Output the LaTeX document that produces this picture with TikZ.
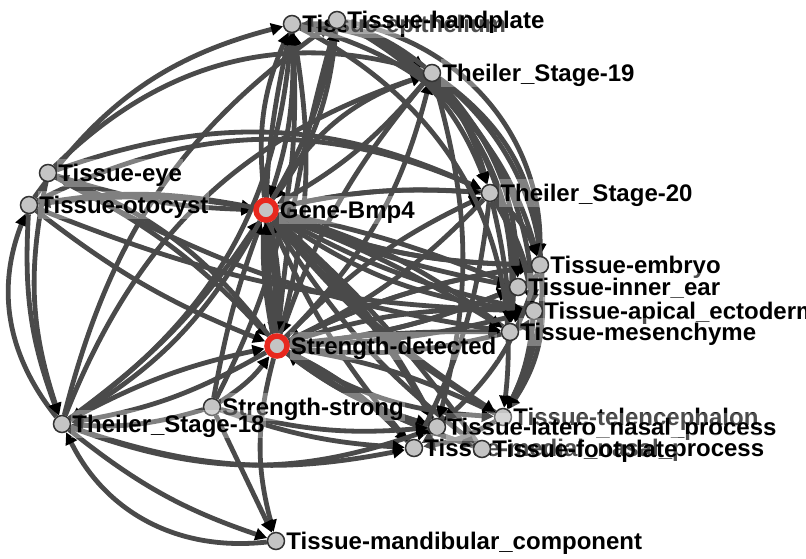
\documentclass[tikz,border=0pt]{standalone}
\usepackage{fontspec}
\setmainfont{Liberation Sans}
\usetikzlibrary{arrows.meta,backgrounds}
\definecolor{edgegray}{RGB}{74,74,74}
\definecolor{nodegray}{RGB}{196,196,196}
\definecolor{ringred}{RGB}{232,40,30}

\begin{document}
\begin{tikzpicture}[x=1pt,y=1pt,
  lbl/.style={font=\fontsize{24}{27}\selectfont\bfseries,fill=white,fill opacity=0.3,
    text opacity=1,inner sep=1pt,text height=21.5pt,text depth=4.5pt},
  every label/.style={lbl},
  gene/.style={circle,draw=black!80,line width=1.5pt,fill=nodegray,
    minimum size=17pt,inner sep=0pt,label distance=5.5pt},
  hub/.style={circle,draw=ringred,line width=5.5pt,fill=nodegray,
    minimum size=20pt,inner sep=0pt,label distance=2.5pt},
  link/.style={draw=edgegray,line width=4.8pt,
    -{Triangle[length=12pt,width=12pt,color=black]}}]
\useasboundingbox (0,0) rectangle (806,-558);

\node[gene,label=right:Tissue-epithelium] (epi) at (292,-24) {};
\node[gene,label=right:Tissue-handplate] (hand) at (337,-20) {};
\node[gene,label=right:Theiler\_Stage-19] (ts19) at (432,-73) {};
\node[gene,label=right:Tissue-eye] (eye) at (48,-173) {};
\node[gene,label=right:Tissue-otocyst] (oto) at (29,-205) {};
\node[hub,label=right:Gene-Bmp4] (bmp) at (266,-210) {};
\node[gene,label=right:Theiler\_Stage-20] (ts20) at (490,-193) {};
\node[gene,label=right:Tissue-embryo] (emb) at (540,-265) {};
\node[gene,label=right:Tissue-inner\_ear] (inn) at (518,-287) {};
\node[gene,label=right:Tissue-apical\_ectoderm] (api) at (534,-311) {};
\node[gene,label=right:Tissue-mesenchyme] (mes) at (510,-332) {};
\node[hub,label=right:Strength-detected] (det) at (277,-346) {};
\node[gene,label=right:Strength-strong] (str) at (212,-407) {};
\node[gene,label=right:Theiler\_Stage-18] (ts18) at (62,-424) {};
\node[gene,label=right:Tissue-telencephalon] (tel) at (503,-417) {};
\node[gene,label=right:Tissue-latero\_nasal\_process] (lat) at (437,-427) {};
\node[gene,label=right:Tissue-medial\_nasal\_process] (med) at (414,-448) {};
\node[gene,label=right:Tissue-footplate] (foot) at (482,-449) {};
\node[gene,label=right:Tissue-mandibular\_component] (mand) at (276,-541) {};

\begin{scope}[on background layer]
% into Gene-Bmp4
\foreach \s/\t/\b in {eye/bmp/-8, oto/bmp/8, ts18/bmp/-10, str/bmp/5, epi/bmp/10,
    hand/bmp/15, ts19/bmp/10, ts20/bmp/-8, emb/bmp/10, inn/bmp/-5, api/bmp/8,
    mes/bmp/-10, tel/bmp/10, lat/bmp/-8, med/bmp/8, foot/bmp/-6}
  \draw[link] (\s) to[bend left=\b] (\t);
% into Strength-detected
\foreach \s/\t/\b in {eye/det/10, oto/det/-8, ts18/det/8, str/det/-10, epi/det/-10,
    hand/det/-5, ts19/det/-10, ts20/det/10, emb/det/-8, inn/det/8, api/det/-10,
    mes/det/10, tel/det/-8, lat/det/10, med/det/-10, foot/det/8}
  \draw[link] (\s) to[bend left=\b] (\t);
% out of the two hubs
\foreach \s/\t/\b in {bmp/epi/15, bmp/hand/-10, bmp/ts19/20, bmp/ts20/8, bmp/emb/-10,
    bmp/mes/5, bmp/tel/-8, bmp/lat/10, bmp/ts18/15, bmp/oto/-10, bmp/api/-14,
    bmp/inn/-6, bmp/foot/-10,
    det/ts19/-15, det/ts20/10, det/emb/8, det/inn/-8, det/lat/-10, det/med/10,
    det/mand/-15, det/ts18/10, det/eye/-15, det/epi/-12, det/tel/-14,
    det/api/-6, det/mes/4, det/foot/-8}
  \draw[link] (\s) to[bend left=\b] (\t);
% the rest
\foreach \s/\t/\b in {ts18/oto/30, oto/ts18/-12, eye/ts18/-15, mand/ts18/35,
    ts18/mand/-10, str/mand/0, str/ts18/10, ts18/ts19/25, eye/ts19/30, oto/ts20/25,
    eye/ts20/22, epi/ts19/15, hand/ts20/20, ts19/ts20/10, ts19/emb/25, hand/emb/40,
    ts20/emb/15, ts19/tel/40, ts20/tel/30, emb/tel/20, ts19/lat/15, ts20/med/10,
    ts19/epi/-20, ts18/hand/20, str/epi/-15, ts18/lat/-20, ts18/med/-15,
    str/lat/-10, str/med/-8, eye/mes/-10, oto/api/-10, inn/emb/-20, api/inn/-20,
    mes/api/-20, tel/med/10, lat/med/10, ts18/epi/-25, oto/epi/20,
    epi/tel/35, hand/mes/35, epi/emb/30, hand/api/30, ts19/mes/20, ts19/inn/20,
    ts20/api/10, ts20/mes/5, emb/lat/15, api/tel/10}
  \draw[link] (\s) to[bend left=\b] (\t);
\draw[link,line width=9pt] (bmp) to[bend left=6] (det);
\draw[link,line width=9pt] (det) to[bend left=6] (bmp);
\end{scope}
\end{tikzpicture}
\end{document}
